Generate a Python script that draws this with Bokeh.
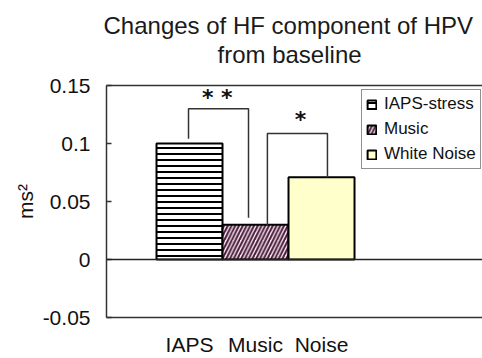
from bokeh.plotting import figure
from bokeh.models import Range1d, FixedTicker, LinearAxis, Span, Title
from bokeh.core.properties import value
from bokeh.embed import file_html
from bokeh.resources import INLINE

# ---- data ----
title_lines = ["Changes of HF component of HPV", "from baseline"]
categories = ["IAPS", "Music", "Noise"]
legend_labels = ["IAPS-stress", "Music", "White Noise"]
positions = [1, 2, 3]
values = [0.100, 0.030, 0.071]

y_ticks = [-0.05, 0, 0.05, 0.1, 0.15]
y_tick_labels = ["-0.05", "0", "0.05", "0.1", "0.15"]

# significance brackets (data units)
bracket1_x = [0.985, 0.985, 1.894, 1.894]
bracket1_y = [0.104, 0.130, 0.130, 0.036]
bracket2_x = [2.18, 2.18, 3.09, 3.09]
bracket2_y = [0.029, 0.1086, 0.1086, 0.0707]
star_x = [1.42, 2.68]
star_y = [0.140, 0.1205]
star_text = ["* *", "*"]

FONT = "Liberation Sans"

p = figure(width=482, height=358, output_backend="svg", toolbar_location=None,
           title=None,
           x_range=Range1d(-0.2576, 5.439), y_range=Range1d(-0.05, 0.15),
           min_border_left=106, min_border_right=0, min_border_top=85, min_border_bottom=41)

p.outline_line_color = None
p.grid.visible = False
p.background_fill_color = "white"

# x axis (categories)
xa = p.xaxis[0]
xa.ticker = FixedTicker(ticks=positions)
xa.major_label_overrides = {pos: cat for pos, cat in zip(positions, categories)}
xa.major_tick_line_color = None
xa.minor_tick_line_color = None
xa.axis_line_color = "#333333"
xa.axis_line_width = 1.5
xa.major_label_text_font = FONT
xa.major_label_text_font_size = "21px"
xa.major_label_text_color = "#111111"
xa.major_label_standoff = 9

# y axis
ya = p.yaxis[0]
ya.ticker = FixedTicker(ticks=y_ticks)
ya.major_label_overrides = {t: lab for t, lab in zip(y_ticks, y_tick_labels)}
ya.major_tick_in = 5
ya.major_tick_out = 0
ya.major_tick_line_color = "#333333"
ya.major_tick_line_width = 1.5
ya.minor_tick_line_color = None
ya.axis_line_color = "#333333"
ya.axis_line_width = 1.5
ya.major_label_text_font = FONT
ya.major_label_text_font_size = "21px"
ya.major_label_text_color = "#111111"
ya.major_label_standoff = 16
ya.axis_label = "ms\u00b2"
ya.axis_label_text_font = FONT
ya.axis_label_text_font_size = "21px"
ya.axis_label_text_font_style = "normal"
ya.axis_label_text_color = "#111111"
ya.axis_label_standoff = 3

# top border line
top_axis = LinearAxis(ticker=FixedTicker(ticks=[]), major_tick_line_color=None,
                      minor_tick_line_color=None, axis_line_color="#333333",
                      axis_line_width=1.5, major_label_text_font_size="0px")
p.add_layout(top_axis, "above")

# title lines, each centred by hand (nearest to the frame added first)
for line, standoff, off in zip(reversed(title_lines), [35, -35], [111, -3]):
    p.add_layout(Title(text=line, align="left", offset=off, text_font=FONT,
                       text_font_size="24px", text_font_style="normal",
                       text_color="#1a1a1a", standoff=standoff), "above")

# zero line
p.add_layout(Span(location=0, dimension="width", line_color="#222222", line_width=1.5))

styles = [
    dict(fill_color="white", hatch_pattern="horizontal_line", hatch_color="black",
         hatch_scale=6, hatch_weight=2),
    dict(fill_color="#f8e9f1", hatch_pattern="right_diagonal_line", hatch_color="#4a1f3c",
         hatch_scale=7.5, hatch_weight=2),
    dict(fill_color="#ffffcc"),
]
for pos, val, lab, st in zip(positions, values, legend_labels, styles):
    p.vbar(x=[pos], top=[val], bottom=0, width=1.0, line_color="black", line_width=2,
           legend_label=lab, **st)

p.line(bracket1_x, bracket1_y, line_color="#333333", line_width=1.5)
p.line(bracket2_x, bracket2_y, line_color="#333333", line_width=1.5)
p.text(x=star_x, y=star_y, text=star_text, text_align="center", text_baseline="middle",
       text_font=value("DejaVu Sans"), text_font_size="22px", text_font_style="bold",
       text_color="#111111")

lg = p.legend[0]
lg.location = (255, 148)
lg.border_line_color = "#222222"
lg.border_line_width = 1.5
lg.background_fill_color = "white"
lg.background_fill_alpha = 1
lg.padding = 4
lg.spacing = 5
lg.margin = 0
lg.glyph_width = 11
lg.glyph_height = 11
lg.label_standoff = 7
lg.label_text_font = FONT
lg.label_text_font_size = "17px"
lg.label_text_color = "#111111"
lg.label_height = 20

open("out.html", "w").write(file_html(p, INLINE))
